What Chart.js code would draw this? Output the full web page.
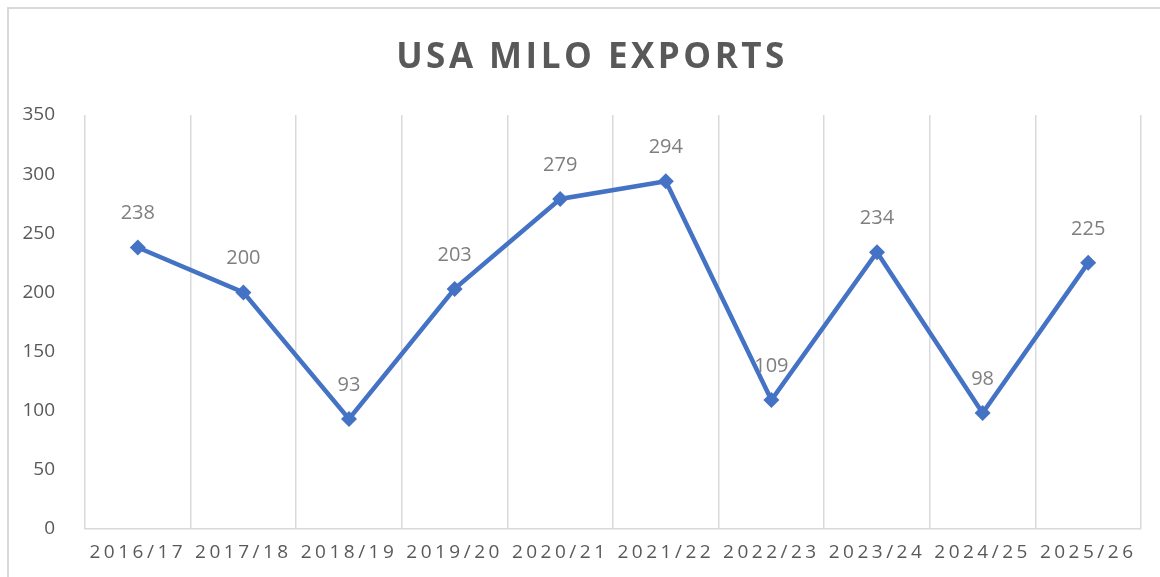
<!DOCTYPE html>
<html>
<head>
<meta charset="utf-8">
<script src="https://cdn.jsdelivr.net/npm/chart.js@4/dist/chart.umd.min.js"></script>
<style>
  html, body { margin: 0; padding: 0; background: #fff; overflow: hidden; }
  #wrap { position: relative; width: 1160px; height: 577px; }
  #frame { position: absolute; left: 7px; top: 7px; width: 1200px; height: 620px; border: 2px solid #d9d9d9; box-sizing: border-box; }
  #c { position: absolute; left: 0; top: 0; }
</style>
</head>
<body>
<div id="wrap">
  <div id="frame"></div>
  <canvas id="c" width="1160" height="577"></canvas>
</div>
<script>
const TITLE = 'USA MILO EXPORTS';
const seasons = ['2016/17', '2017/18', '2018/19', '2019/20', '2020/21', '2021/22', '2022/23', '2023/24', '2024/25', '2025/26'];
const exports_ = [238, 200, 93, 203, 279, 294, 109, 234, 98, 225];
const yTicks = { min: 0, max: 350, step: 50 };

const FONT = "'Open Sans', 'Noto Sans', sans-serif";

// title with letter spacing (drawn by hand, Chart's title has no spacing option)
const titlePlugin = {
  id: 'spacedTitle',
  afterDraw(chart) {
    const ctx = chart.ctx;
    ctx.save();
    ctx.font = 'bold 35px ' + FONT;
    ctx.fillStyle = '#595959';
    ctx.textAlign = 'center';
    ctx.textBaseline = 'middle';
    ctx.letterSpacing = '3.5px';
    ctx.fillText(TITLE, 592, 58);
    ctx.restore();
  }
};

// spaced x tick labels: wrap the x scale's label drawing
const spacedTicks = {
  id: 'spacedTicks',
  beforeDraw(chart) {
    const sx = chart.scales.x;
    if (sx._spaced) return;
    const orig = sx.drawLabels;
    sx.drawLabels = function (area) {
      const ctx = this.ctx;
      ctx.save();
      ctx.letterSpacing = '3.5px';
      orig.call(this, area);
      ctx.restore();
    };
    sx._spaced = true;
  }
};

const valueLabels = {
  id: 'valueLabels',
  afterDatasetsDraw(chart) {
    const ctx = chart.ctx;
    const meta = chart.getDatasetMeta(0);
    ctx.save();
    ctx.font = '20px ' + FONT;
    ctx.fillStyle = '#7f7f7f';
    ctx.textAlign = 'center';
    ctx.textBaseline = 'middle';
    meta.data.forEach((pt, i) => {
      ctx.fillText(String(exports_[i]), pt.x, pt.y - 34);
    });
    ctx.restore();
  }
};

new Chart(document.getElementById('c'), {
  type: 'line',
  data: {
    labels: seasons,
    datasets: [{
      data: exports_,
      borderColor: '#4472C4',
      backgroundColor: '#4472C4',
      borderWidth: 4.5,
      tension: 0,
      pointStyle: 'rectRot',
      pointRadius: 8,
      pointBorderWidth: 0,
      pointBackgroundColor: '#4472C4',
      fill: false,
    }],
  },
  options: {
    responsive: false,
    animation: false,
    layout: { padding: { left: 0, right: 19, top: 115, bottom: 0 } },
    plugins: {
      legend: { display: false },
      tooltip: { enabled: false },
      title: { display: false },
    },
    scales: {
      x: {
        offset: true,
        grid: { offset: true, color: '#d9d9d9', lineWidth: 1.5, drawTicks: false },
        border: { display: true, color: '#d9d9d9', width: 1.5 },
        ticks: { color: '#595959', font: { family: FONT, size: 19 }, padding: 12, maxRotation: 0, autoSkip: false },
        afterFit: (s) => { s.height = 48; },
      },
      y: {
        min: yTicks.min, max: yTicks.max,
        grid: { display: false },
        border: { display: false },
        ticks: { stepSize: yTicks.step, color: '#595959', font: { family: FONT, size: 19 }, padding: 22 },
        afterFit: (s) => { s.width = 85; },
      },
    },
  },
  plugins: [spacedTicks, valueLabels, titlePlugin],
});
</script>
</body>
</html>
